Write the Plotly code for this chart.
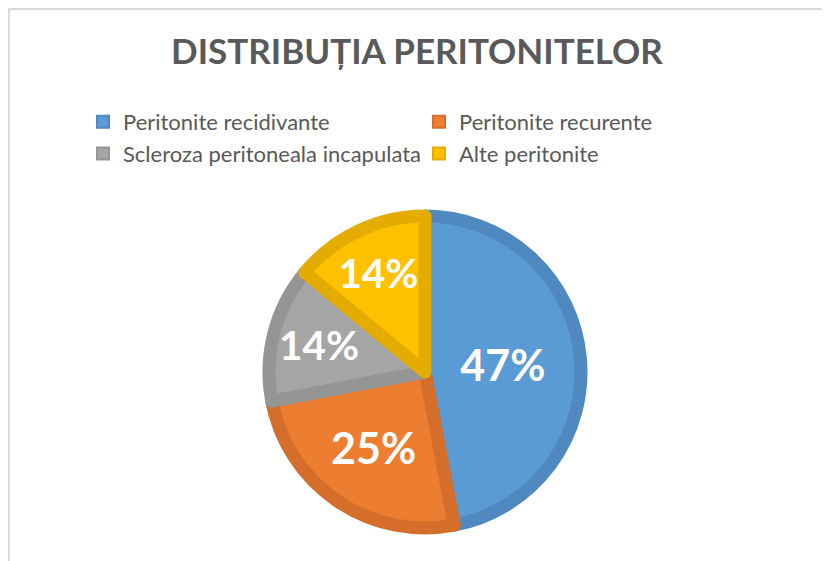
import plotly.graph_objects as go

labels = ["Peritonite recidivante", "Peritonite recurente",
          "Scleroza peritoneala incapulata", "Alte peritonite"]
values = [47, 25, 14, 14]
fill_colors = ["#5B9BD5", "#ED7D31", "#A5A5A5", "#FFC000"]
edge_colors = ["#4F89C0", "#D56E2A", "#959595", "#E5AC00"]

W, H = 830, 561
OFF = 8  # page body margin

def px_x(x):
    return (x - OFF) / W

def px_y(y):
    return 1 - (y - OFF) / H

fig = go.Figure(go.Pie(
    labels=labels,
    values=values,
    sort=False,
    direction="clockwise",
    rotation=0,
    marker=dict(colors=fill_colors, line=dict(color=edge_colors, width=13)),
    textinfo="percent",
    textposition="inside",
    insidetextorientation="horizontal",
    textfont=dict(family="Lato", size=43, color="white", weight="bold"),
    domain=dict(x=[px_x(269), px_x(581)], y=[px_y(528), px_y(216)]),
    hoverinfo="label+percent",
))

fig.update_layout(
    width=W, height=H,
    margin=dict(l=0, r=0, t=0, b=0),
    paper_bgcolor="white",
    plot_bgcolor="white",
    title=dict(
        text="<b>DISTRIBUȚIA PERITONITELOR</b>",
        x=px_x(417), xanchor="center",
        y=px_y(52), yanchor="middle",
        font=dict(family="Lato", size=35, color="#595959"),
    ),
    legend=dict(
        orientation="h",
        x=px_x(83), xanchor="left",
        y=px_y(101), yanchor="top",
        font=dict(family="Lato", size=22, color="#595959"),
        entrywidth=291, entrywidthmode="pixels",
        itemsizing="constant",
        bgcolor="rgba(0,0,0,0)",
    ),
    showlegend=True,
    shapes=[dict(type="rect", xref="paper", yref="paper",
                 x0=0.0012, x1=1.2, y0=-0.2, y1=0.998,
                 line=dict(color="#D9D9D9", width=2), fillcolor="rgba(0,0,0,0)")],
)

fig.write_html("out.html")
